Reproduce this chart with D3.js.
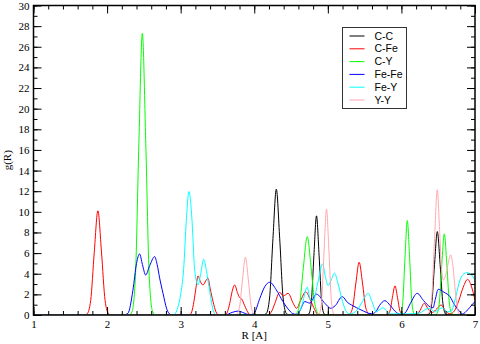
<!DOCTYPE html>
<html>
<head>
<meta charset="utf-8">
<script src="https://cdn.jsdelivr.net/npm/d3@7"></script>
<style>
  body { margin: 0; background: #fff; }
  svg { display: block; }
  .tick line { stroke: #000; }
  .tick text { font-family: "Liberation Serif", "DejaVu Serif", serif; font-size: 11px; fill: #000; }
</style>
</head>
<body>
<svg id="rdfPlot" width="480" height="344"></svg>
<script>
// series names / colours (legend order = draw order)
const seriesNames = ["C-C", "C-Fe", "C-Y", "Fe-Fe", "Fe-Y", "Y-Y"];
const colorMap = ["#000000", "#ff0000", "#00ff00", "#0000ff", "#00ffff", "#ffa8b0"];

// [R, g(R)]
const cc = [[1,0],[4.12,0],[4.162,0.13],[4.208,1.65],[4.254,7.4],[4.30,12.2],[4.346,7.4],[4.392,1.65],[4.438,0.13],[4.48,0],
  [4.70,0],[4.741,0.1],[4.776,1.3],[4.811,5.8],[4.846,9.61],[4.881,5.8],[4.916,1.3],[4.951,0.1],[4.99,0],
  [6.33,0],[6.374,0.09],[6.412,1.1],[6.45,4.9],[6.488,8.09],[6.526,4.9],[6.564,1.1],[6.602,0.09],[6.64,0],[7,0]];

const cfe = [[1,0],[1.69,0],[1.728,0.1],[1.777,1.4],[1.826,6.1],[1.875,10.1],[1.924,6.1],[1.973,1.4],[2.022,0.1],[2.06,0],
  [3.12,0],[3.15,0.3],[3.18,1.3],[3.204,2.43],[3.236,3.79],[3.27,3.2],[3.304,2.91],[3.34,3.3],[3.372,3.56],[3.40,2.6],[3.44,1.3],[3.48,0.3],[3.52,0],
  [3.60,0],[3.635,0.3],[3.667,1.13],[3.70,2.3],[3.735,2.91],[3.77,2.2],[3.80,1.7],[3.83,1.55],[3.87,0.9],[3.91,0.3],[3.95,0],
  [4.19,0],[4.24,0.4],[4.28,1.13],[4.347,2.2],[4.393,1.84],[4.46,2.1],[4.53,1.13],[4.574,0.65],[4.63,1.4],[4.70,2.25],[4.76,1.5],[4.823,0.5],[4.87,0],
  [5.26,0],[5.291,0.06],[5.336,0.69],[5.381,3.1],[5.426,5.11],[5.471,3.1],[5.516,0.69],[5.561,0.06],[5.59,0],
  [5.78,0],[5.81,0.03],[5.844,0.38],[5.878,1.72],[5.912,2.82],[5.946,1.72],[5.98,0.38],[6.014,0.03],[6.04,0],
  [6.20,0],[6.25,0.4],[6.31,1.13],[6.37,0.5],[6.42,0.25],[6.48,0.6],[6.54,0.97],[6.60,0.4],[6.66,0.1],[6.72,0.4],[6.78,1.4],[6.84,2.7],[6.90,3.46],[6.95,2.8],[7,1.46]];

const cy = [[1,0],[2.30,0],[2.338,0.3],[2.385,3.7],[2.432,16.6],[2.479,27.3],[2.526,16.6],[2.573,3.7],[2.62,0.3],[2.66,0],
  [4.52,0],[4.564,0.08],[4.616,1.03],[4.668,4.64],[4.72,7.6],[4.772,4.64],[4.824,1.03],[4.876,0.08],[4.92,0],
  [5.95,0],[5.987,0.1],[6.018,1.24],[6.049,5.6],[6.08,9.16],[6.111,5.6],[6.142,1.24],[6.173,0.1],[6.21,0],
  [6.44,0],[6.478,0.09],[6.513,1.06],[6.548,4.8],[6.583,7.86],[6.618,4.8],[6.653,1.06],[6.688,0.09],[6.72,0],[7,0]];

const fefe = [[1,0],[2.22,0],[2.283,0.16],[2.351,2.4],[2.40,5.0],[2.442,5.92],[2.48,4.9],[2.524,3.88],[2.58,4.8],[2.646,5.66],[2.68,4.9],[2.714,3.6],[2.76,2.1],[2.81,0.6],[2.86,0.05],[2.90,0],
  [3.60,0],[3.70,0.25],[3.78,0.38],[3.86,0.2],[3.94,0.02],[4.0,0.2],[4.075,1.6],[4.143,2.75],[4.211,3.17],[4.30,2.43],[4.39,1.3],[4.47,0.5],[4.52,0.15],[4.58,0.05],
  [4.62,0.4],[4.687,1.3],[4.755,1.15],[4.846,2.02],[4.96,1.13],[5.04,0.65],[5.10,0.9],[5.195,1.78],[5.27,1.2],[5.322,0.97],[5.45,0.5],[5.594,0.12],
  [5.65,0.3],[5.70,0.9],[5.775,1.39],[5.85,0.9],[5.93,0.25],[6.0,0.05],[6.05,0.2],[6.12,1.1],[6.215,2.1],[6.30,1.4],[6.387,0.8],[6.43,0.7],[6.46,1.5],[6.50,2.49],
  [6.58,2.2],[6.66,1.78],[6.72,1.0],[6.79,0.35],[6.83,0.1],[6.90,0.5],[6.96,1.0],[7,1.3]];

const fey = [[1,0],[2.90,0],[2.96,0.7],[3.0,2.0],[3.04,4.4],[3.077,9.2],[3.113,11.97],[3.154,9.2],[3.19,4.4],[3.236,2.91],[3.27,3.9],[3.313,5.4],[3.35,4.3],[3.385,2.75],[3.44,0.5],[3.48,0],
  [4.58,0],[4.642,0.8],[4.72,2.7],[4.76,1.5],[4.80,1.4],[4.86,3.0],[4.928,4.95],[4.97,3.6],[5.004,2.85],[5.04,3.3],[5.09,4.05],[5.14,3.0],[5.20,1.3],[5.254,0.3],[5.30,0.1],
  [5.40,0.5],[5.47,1.3],[5.549,2.1],[5.60,1.3],[5.66,0.3],[5.70,0.5],[5.75,0.7],[5.80,0.4],[5.86,0.1],[6.10,0.1],[6.25,0.2],[6.33,0.55],[6.39,0.65],[6.45,0.3],
  [6.50,0.5],[6.56,0.7],[6.62,0.3],[6.68,0.4],[6.74,1.8],[6.796,3.4],[6.85,4.0],[6.887,4.11],[6.95,3.9],[7,3.4]];

const yy = [[1,0],[3.72,0],[3.76,0.06],[3.80,0.76],[3.84,3.4],[3.88,5.6],[3.92,3.4],[3.96,0.76],[4.0,0.06],[4.04,0],
  [4.85,0],[4.883,0.1],[4.916,1.4],[4.949,6.2],[4.982,10.26],[5.015,6.2],[5.048,1.4],[5.081,0.1],[5.12,0],
  [6.33,0],[6.37,0.2],[6.41,1.5],[6.45,7.4],[6.488,12.14],[6.52,8.0],[6.545,4.5],[6.57,3.4],[6.60,3.8],[6.635,5.0],[6.669,5.83],[6.70,4.8],[6.73,2.5],[6.77,0.4],[6.80,0],[7,0]];

const allSeries = [cc, cfe, cy, fefe, fey, yy];
const xTicks = [1, 2, 3, 4, 5, 6, 7];
const yTicks = d3.range(0, 31, 2);

const margin = { top: 5.5, right: 5, bottom: 29, left: 33.5 };
let svg = d3.select("#rdfPlot");
const width = 480 - margin.left - margin.right;
const height = 344 - margin.top - margin.bottom;

const x = d3.scaleLinear().domain([1, 7]).range([0, width]);
const y = d3.scaleLinear().domain([0, 30]).range([height, 0]);

svg.append("rect").attr("width", 480).attr("height", 344).attr("fill", "#fff");

let g = svg.append("g")
  .attr("transform", "translate(" + margin.left + "," + margin.top + ")");

const line = d3.line()
  .x((d) => x(d[0]))
  .y((d) => y(d[1]))
  .curve(d3.curveMonotoneX);

g.append("defs").append("clipPath").attr("id", "clip")
  .append("rect").attr("width", width).attr("height", height);

g.append("g")
  .attr("clip-path", "url(#clip)")
  .selectAll("path")
  .data(allSeries)
  .enter()
  .append("path")
  .attr("d", line)
  .attr("fill", "none")
  .attr("stroke-width", 1)
  .attr("stroke", (d, i) => colorMap[i]);

// axes: major + minor ticks, all pointing inward
function addAxis(axis, transform) {
  const a = g.append("g").attr("transform", transform).call(axis);
  a.select(".domain").remove();
  return a;
}
const xMinor = d3.range(1, 7.001, 0.2);
const yMinor = d3.range(0, 31, 1);

addAxis(d3.axisBottom(x).tickValues(xMinor).tickSize(-4).tickFormat(""), "translate(0," + height + ")");
addAxis(d3.axisBottom(x).tickValues(xTicks).tickSize(-8).tickPadding(5).tickFormat(d3.format("d")), "translate(0," + height + ")");
addAxis(d3.axisTop(x).tickValues(xMinor).tickSize(-4).tickFormat(""), "translate(0,0)");
addAxis(d3.axisTop(x).tickValues(xTicks).tickSize(-8).tickFormat(""), "translate(0,0)");
addAxis(d3.axisLeft(y).tickValues(yMinor).tickSize(-4).tickFormat(""), "translate(0,0)");
addAxis(d3.axisLeft(y).tickValues(yTicks).tickSize(-8).tickPadding(4).tickFormat(d3.format("d")), "translate(0,0)");
addAxis(d3.axisRight(y).tickValues(yMinor).tickSize(-4).tickFormat(""), "translate(" + width + ",0)");
addAxis(d3.axisRight(y).tickValues(yTicks).tickSize(-8).tickFormat(""), "translate(" + width + ",0)");

g.append("rect")
  .attr("width", width)
  .attr("height", height)
  .attr("fill", "none")
  .attr("stroke", "#000")
  .attr("stroke-width", 1.5);

// axis titles
svg.append("text")
  .attr("x", margin.left + width / 2)
  .attr("y", 339)
  .attr("text-anchor", "middle")
  .style("font-family", "Liberation Serif, serif")
  .style("font-size", "11px")
  .text("R [A]");

svg.append("text")
  .attr("transform", "translate(11," + (margin.top + height / 2) + ") rotate(-90)")
  .attr("text-anchor", "middle")
  .style("font-family", "Liberation Serif, serif")
  .style("font-size", "11px")
  .text("g(R)");

// legend
const legend = svg.append("g").attr("transform", "translate(342.5,27.5)");
legend.append("rect")
  .attr("width", 64)
  .attr("height", 81)
  .attr("fill", "#fff")
  .attr("stroke", "#333")
  .attr("stroke-width", 1);

const rows = legend.selectAll(".row")
  .data(seriesNames)
  .enter()
  .append("g")
  .attr("class", "row")
  .attr("transform", (d, i) => "translate(0," + (8.5 + i * 12.8) + ")");

rows.append("line")
  .attr("x1", 7).attr("x2", 22)
  .attr("stroke", (d, i) => colorMap[i])
  .attr("stroke-width", 1);

rows.append("text")
  .attr("x", 32)
  .attr("dy", "0.35em")
  .style("font-family", "Liberation Sans, Arial, sans-serif")
  .style("font-size", "10.5px")
  .text((d) => d);
</script>
</body>
</html>
